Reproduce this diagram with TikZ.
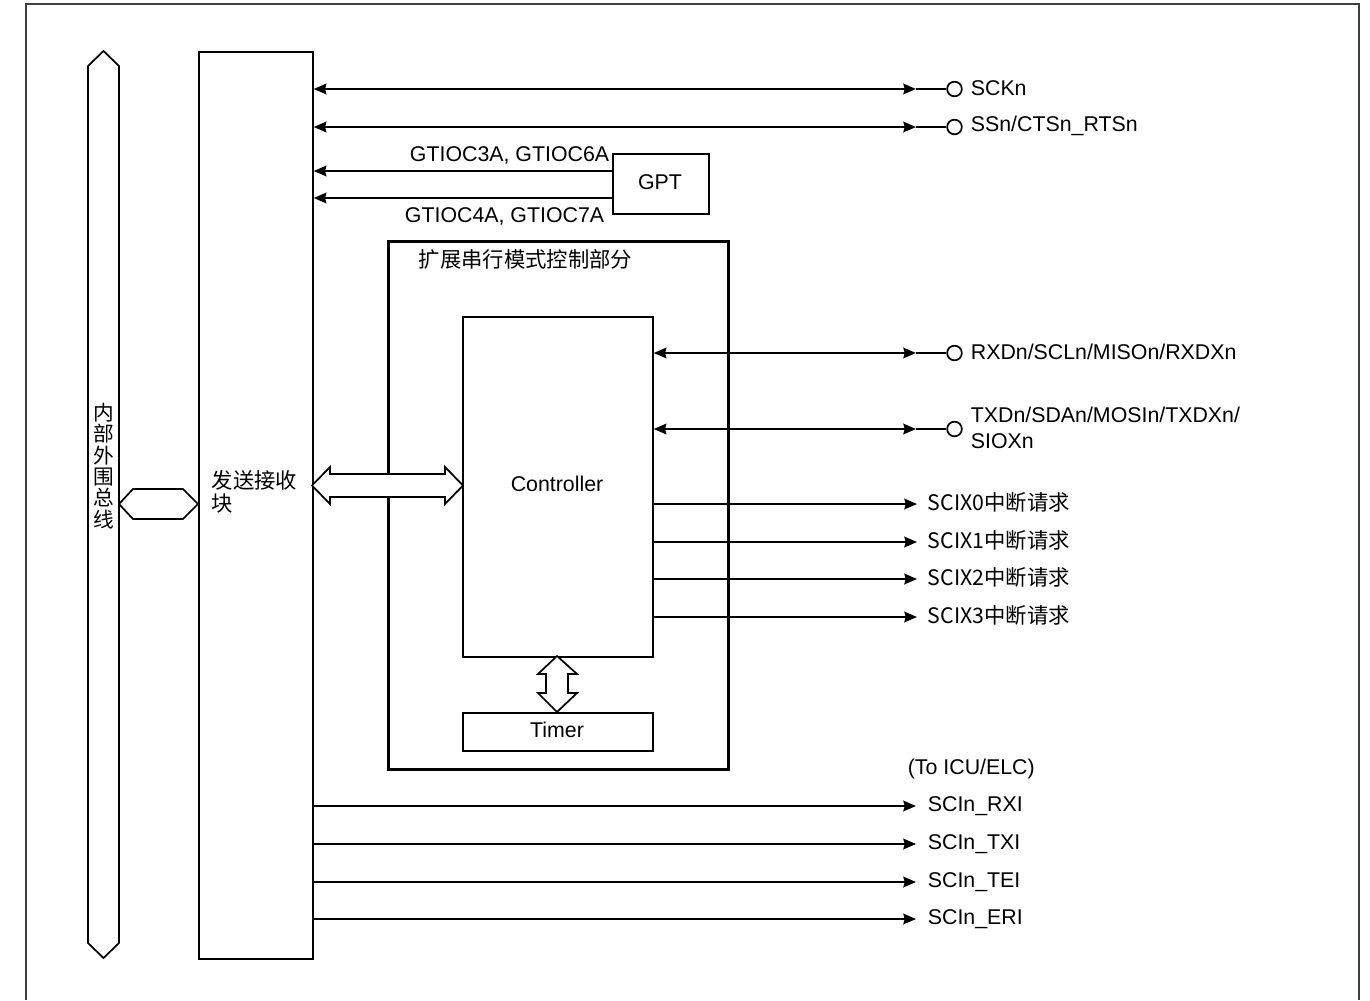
\documentclass[tikz,border=0pt]{standalone}
\usepackage{fontspec}
\setmainfont{Liberation Sans}
\newfontfamily\cjk{Noto Sans CJK SC}
\usetikzlibrary{arrows.meta}
\def\px{0.75pt}
\begin{document}
\begin{tikzpicture}[x=0.75pt,y=-0.75pt, line width=1.3pt,
  font=\fontsize{16}{16}\selectfont,
  tip/.style={-{Stealth[length=9.5pt,width=8pt,inset=1pt]}},
  bitip/.style={{Stealth[length=9.5pt,width=8pt,inset=1pt]}-{Stealth[length=9.5pt,width=8pt,inset=1pt]}},
  box/.style={draw, rectangle, inner sep=0pt, anchor=north west},
  lbl/.style={inner sep=0pt, anchor=west},
  pin/.style={draw, circle, inner sep=0pt, minimum size=11pt, fill=white},
  block/.style={draw, fill=white, line join=miter}
]
\useasboundingbox (0,0) rectangle (1370,1000);
% outer frame
\draw[line width=1.6pt, draw=black!75] (26,1000) -- (26,4) -- (1359,4) -- (1359,1000);

% internal bus
\draw[block] (88,66) -- (103.5,51) -- (119,66) -- (119,943) -- (103.5,958) -- (88,943) -- cycle;
\node[inner sep=0pt, align=center, font=\cjk\fontsize{15.5}{16}\selectfont] (bus) at (103.5,466) {内\\部\\外\\围\\总\\线};

% transmit/receive block
\node[box, minimum width=114*\px, minimum height=907*\px] (txrx) at (198,51) {};
\node[lbl, align=left, font=\cjk\fontsize{16}{17}\selectfont] (txrxt) at (211,492) {发送接收\\块};

% bus <-> txrx
\draw[block] (119,504) -- (133,489) -- (183,489) -- (198,504) -- (183,519) -- (133,519) -- cycle;

% extended serial mode control box
\node[box, line width=2.2pt, minimum width=340*\px, minimum height=528*\px] (ext) at (387,240) {};
\node[lbl, font=\cjk\fontsize{16}{16}\selectfont] (extt) at (418,259) {扩展串行模式控制部分};

% controller and timer
\node[box, minimum width=190*\px, minimum height=340*\px] (ctrl) at (462,316) {};
\node[inner sep=0pt] (ctrlt) at (557,484) {Controller};
\node[box, minimum width=190*\px, minimum height=38*\px] (timer) at (462,712) {};
\node[inner sep=0pt] (timert) at (557,730) {Timer};

% txrx <-> controller
\draw[block] (312,485.5) -- (330,467) -- (330,474) -- (445,474) -- (445,467) -- (463,485.5) -- (445,504) -- (445,497) -- (330,497) -- (330,504) -- cycle;
% controller <-> timer
\draw[block] (557,656) -- (577,674) -- (568,674) -- (568,693) -- (577,693) -- (557,712) -- (538,693) -- (546,693) -- (546,674) -- (538,674) -- cycle;

% GPT
\node[box, minimum width=96*\px, minimum height=60*\px] (gpt) at (612,153) {};
\node[inner sep=0pt] (gptt) at (660,182) {GPT};
\draw[tip] (gpt.west |- 0,171) -- (txrx.east |- 0,171);
\draw[tip] (gpt.west |- 0,198) -- (txrx.east |- 0,198);
\node[inner sep=0pt, anchor=east] (g1) at (610,155) {GTIOC3A, GTIOC6A};
\node[inner sep=0pt, anchor=east] (g2) at (605,216) {GTIOC4A, GTIOC7A};

% pins
\node[pin] (p1) at (954.5,89) {};
\node[pin] (p2) at (954.5,127) {};
\node[pin] (p3) at (954.5,353) {};
\node[pin] (p4) at (954.5,429) {};
\coordinate (m1) at (916,89);
\coordinate (m2) at (916,127);
\coordinate (m3) at (916,353);
\coordinate (m4) at (916,429);
\draw[bitip] (txrx.east |- m1) -- (m1);
\draw (m1) -- (p1.west);
\draw[bitip] (txrx.east |- m2) -- (m2);
\draw (m2) -- (p2.west);
\draw[bitip] (ctrl.east |- m3) -- (m3);
\draw (m3) -- (p3.west);
\draw[bitip] (ctrl.east |- m4) -- (m4);
\draw (m4) -- (p4.west);
\node[lbl] (l1) at (970,88) {SCKn};
\node[lbl] (l2) at (970,126) {SSn/CTSn\_RTSn};
\node[lbl] (l3) at (970,352) {RXDn/SCLn/MISOn/RXDXn};
\node[lbl, align=left] (l4) at (970,428) {TXDn/SDAn/MOSIn/TXDXn/\\[4pt]SIOXn};

% SCIX interrupts
\foreach \i/\y in {0/504,1/542,2/579,3/617}{
  \coordinate (s\i) at (917,\y);
  \draw[tip] (ctrl.east |- s\i) -- (s\i);
  \node[lbl, font=\cjk\fontsize{16}{16}\selectfont] (sl\i) at (927,\y-2) {SCIX\i 中断请求};
}

% ICU/ELC outputs
\node[lbl] (icu) at (907,769) {(To ICU/ELC)};
\foreach \n/\y in {RXI/806,TXI/844,TEI/882,ERI/919}{
  \coordinate (e\n) at (916,\y);
  \draw[tip] (txrx.east |- e\n) -- (e\n);
  \node[lbl] (el\n) at (927,\y) {SCIn\_\n};
}
\end{tikzpicture}
\end{document}
